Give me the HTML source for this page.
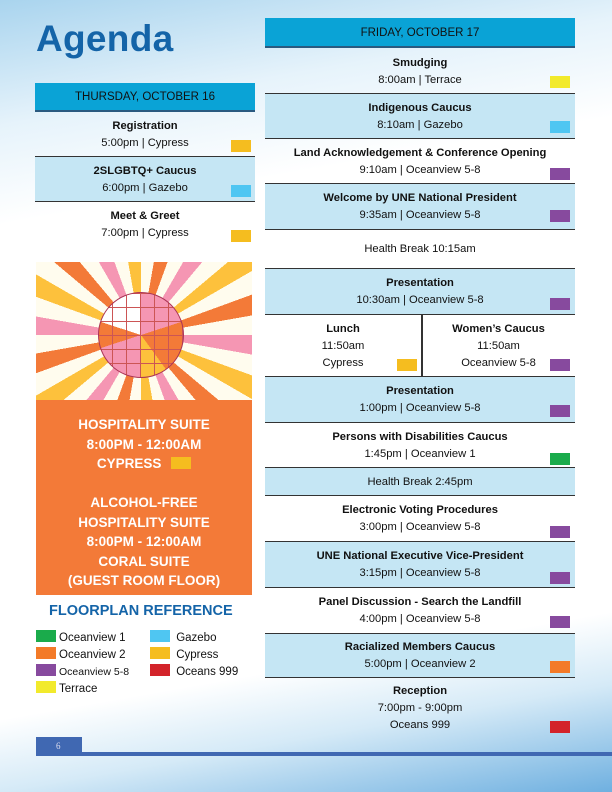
<!DOCTYPE html>
<html><head><meta charset="utf-8"><style>
*{margin:0;padding:0;box-sizing:border-box}
body{width:612px;height:792px;position:relative;overflow:hidden;font-family:"Liberation Sans",sans-serif;color:#111;
background:linear-gradient(170deg,#a9d4ee 0%,#e6f3fb 14%,#fff 25%,#fff 80%,#d5eaf7 88%,#6fb0e0 100%);}
.a{position:absolute}
.row{position:absolute;text-align:center;font-size:11.2px;line-height:17px;border-bottom:1.5px solid #333}
.blue{background:#c5e6f4}
.sq{position:absolute;width:20px;height:12px}
.hdr{position:absolute;background:#0aa3d6;text-align:center;font-size:11.5px;color:#111;border-bottom:2px solid #2a5a80}
.lg{position:absolute;font-size:11.5px;line-height:14px}
.lg i{display:inline-block;width:20px;height:12px;vertical-align:-1px;margin-right:3px}
</style></head><body>
<div class="a" style="left:36px;top:18px;font-size:37px;font-weight:bold;color:#1464a8;letter-spacing:0.3px">Agenda</div>

<div class="hdr" style="left:35px;top:83px;width:220px;height:29px;line-height:29px">THURSDAY, OCTOBER 16</div>
<div class="row" style="left:35px;top:112px;width:220px;height:45px;padding-top:6px"><b>Registration</b><br>5:00pm | Cypress</div>
<div class="row blue" style="left:35px;top:157px;width:220px;height:45px;padding-top:6px"><b>2SLGBTQ+ Caucus</b><br>6:00pm | Gazebo</div>
<div class="a" style="left:35px;top:202px;width:220px;height:45px;padding-top:6px;text-align:center;font-size:11.2px;line-height:17px"><b>Meet &amp; Greet</b><br>7:00pm | Cypress</div>
<div class="sq" style="left:231px;top:140px;background:#f5bd1f"></div>
<div class="sq" style="left:231px;top:185px;background:#4fc6f2"></div>
<div class="sq" style="left:231px;top:230px;background:#f5bd1f"></div>

<div class="a" style="left:36px;top:262px;width:216px;height:145px;overflow:hidden;background:repeating-conic-gradient(from 0deg at 105px 73px,#fffcee 0deg 10deg,#f37a38 10deg 20deg,#fffcee 20deg 30deg,#f596b3 30deg 40deg,#fffcee 40deg 50deg,#fdc13c 50deg 60deg)">
<div class="a" style="left:62px;top:30px;width:86px;height:86px;border-radius:50%;border:1px solid #a35;
background:repeating-linear-gradient(90deg,transparent 0 13px,#c55 13px 14px),repeating-linear-gradient(0deg,transparent 0 13px,#c55 13px 14px),conic-gradient(#f596b3 0 20%,#f37a38 0 40%,#fdc13c 0 50%,#f596b3 0 70%,#f37a38 0 80%,#fff 0 100%)"></div>
<div class="a" style="left:0;top:138px;width:216px;height:7px;background:#f37a38"></div>
</div>
<div class="a" style="left:36px;top:407px;width:216px;height:188px;background:#f37a38;color:#fff;font-weight:bold;font-size:13.5px;line-height:19.5px;text-align:center;padding-top:8px">HOSPITALITY SUITE<br>8:00PM - 12:00AM<br>CYPRESS <span style="display:inline-block;width:20px;height:12px;background:#f5bd1f;vertical-align:-1px;margin-left:6px"></span><br><br>ALCOHOL-FREE<br>HOSPITALITY SUITE<br>8:00PM - 12:00AM<br>CORAL SUITE<br>(GUEST ROOM FLOOR)</div>

<div class="a" style="left:49px;top:603px;font-size:14.5px;font-weight:bold;color:#1464a8">FLOORPLAN REFERENCE</div>
<div class="lg" style="left:36px;top:630px;line-height:17px">
<div><i style="background:#1aab4b"></i>Oceanview 1</div>
<div><i style="background:#f37a28"></i>Oceanview 2</div>
<div style="font-size:10.5px"><i style="background:#874a9e"></i>Oceanview 5-8</div>
<div><i style="background:#f2ea2c"></i>Terrace</div></div>
<div class="lg" style="left:150px;top:630px;line-height:17px">
<div><i style="background:#4fc6f2"></i> Gazebo</div>
<div><i style="background:#f5bd1f"></i> Cypress</div>
<div><i style="background:#d3232a"></i> Oceans 999</div></div>

<div class="hdr" style="left:265px;top:18px;width:310px;height:30px;line-height:30px">FRIDAY, OCTOBER 17</div>
<div class="row" style="left:265px;top:48px;width:310px;height:46px;padding-top:7px"><b>Smudging</b><br>8:00am | Terrace</div>
<div class="row blue" style="left:265px;top:94px;width:310px;height:45px;padding-top:6px"><b>Indigenous Caucus</b><br>8:10am | Gazebo</div>
<div class="row" style="left:265px;top:139px;width:310px;height:45px;padding-top:6px"><b>Land Acknowledgement &amp;  Conference Opening</b><br>9:10am | Oceanview 5-8</div>
<div class="row blue" style="left:265px;top:184px;width:310px;height:46px;padding-top:6px"><b>Welcome by UNE National President</b><br>9:35am | Oceanview 5-8</div>
<div class="row" style="left:265px;top:230px;width:310px;height:39px;padding-top:11px">Health Break  10:15am</div>
<div class="row blue" style="left:265px;top:269px;width:310px;height:46px;padding-top:6px"><b>Presentation</b><br>10:30am | Oceanview 5-8</div>
<div class="row" style="left:265px;top:315px;width:310px;height:62px"></div>
<div class="a" style="left:421px;top:315px;width:1.5px;height:61px;background:#333"></div>
<div class="a" style="left:265px;top:321px;width:156px;text-align:center;font-size:11.2px;line-height:17px"><b>Lunch</b><br>11:50am<br>Cypress</div>
<div class="a" style="left:422px;top:321px;width:153px;text-align:center;font-size:11.2px;line-height:17px"><b>Women’s Caucus</b><br>11:50am<br>Oceanview 5-8</div>
<div class="row blue" style="left:265px;top:377px;width:310px;height:46px;padding-top:6px"><b>Presentation</b><br>1:00pm | Oceanview 5-8</div>
<div class="row" style="left:265px;top:423px;width:310px;height:45px;padding-top:6px"><b>Persons with Disabilities Caucus</b><br>1:45pm | Oceanview 1</div>
<div class="row blue" style="left:265px;top:468px;width:310px;height:28px;padding-top:6px">Health Break  2:45pm</div>
<div class="row" style="left:265px;top:496px;width:310px;height:46px;padding-top:6px"><b>Electronic Voting Procedures</b><br>3:00pm | Oceanview 5-8</div>
<div class="row blue" style="left:265px;top:542px;width:310px;height:46px;padding-top:6px"><b>UNE National Executive Vice-President</b><br>3:15pm | Oceanview 5-8</div>
<div class="row" style="left:265px;top:588px;width:310px;height:46px;padding-top:6px"><b>Panel Discussion - Search the Landfill</b><br>4:00pm | Oceanview 5-8</div>
<div class="row blue" style="left:265px;top:634px;width:310px;height:44px;padding-top:5px"><b>Racialized Members Caucus</b><br>5:00pm | Oceanview 2</div>
<div class="a" style="left:265px;top:683px;width:310px;text-align:center;font-size:11.2px;line-height:17px"><b>Reception</b><br>7:00pm - 9:00pm<br>Oceans 999</div>

<div class="sq" style="left:550px;top:76px;background:#f2ea2c"></div>
<div class="sq" style="left:550px;top:121px;background:#4fc6f2"></div>
<div class="sq" style="left:550px;top:168px;background:#874a9e"></div>
<div class="sq" style="left:550px;top:210px;background:#874a9e"></div>
<div class="sq" style="left:550px;top:298px;background:#874a9e"></div>
<div class="sq" style="left:397px;top:359px;background:#f5bd1f"></div>
<div class="sq" style="left:550px;top:359px;background:#874a9e"></div>
<div class="sq" style="left:550px;top:405px;background:#874a9e"></div>
<div class="sq" style="left:550px;top:453px;background:#1aab4b"></div>
<div class="sq" style="left:550px;top:526px;background:#874a9e"></div>
<div class="sq" style="left:550px;top:572px;background:#874a9e"></div>
<div class="sq" style="left:550px;top:616px;background:#874a9e"></div>
<div class="sq" style="left:550px;top:661px;background:#f37a28"></div>
<div class="sq" style="left:550px;top:721px;background:#d3232a"></div>

<div class="a" style="left:36px;top:737px;width:46px;height:19px;background:#4068b2;color:#dde;font-size:9px;line-height:19px;padding-left:20px;font-family:'Liberation Serif',serif">6</div>
<div class="a" style="left:36px;top:752px;width:576px;height:4px;background:#4068b2"></div>
</body></html>
